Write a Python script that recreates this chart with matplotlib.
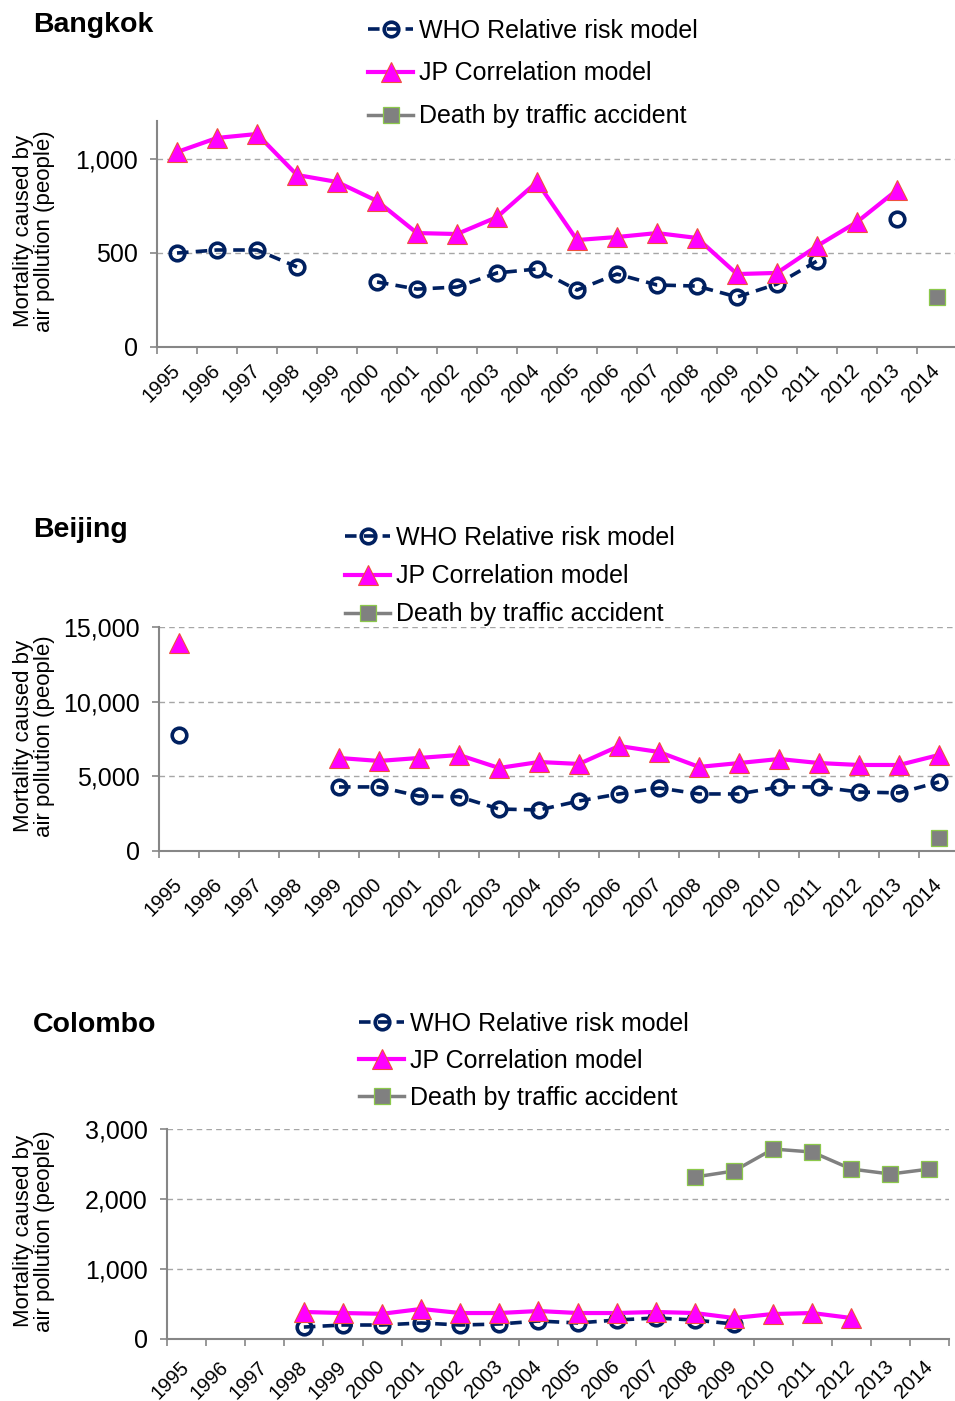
import numpy as np
import matplotlib
matplotlib.use("Agg")
import matplotlib.pyplot as plt
from matplotlib.ticker import FuncFormatter

plt.rcParams['font.family'] = ['Liberation Sans', 'DejaVu Sans']

nan = np.nan
years = [str(y) for y in range(1995, 2015)]
series_names = ["WHO Relative risk model", "JP Correlation model", "Death by traffic accident"]

### Bangkok
bkk_who = [500, 516, 516, 426, nan, 346, 308, 319, 394, 415, 303, 388, 330, 324, 266, 335, 457, nan, 681, nan]
bkk_jp = [1037, 1112, 1133, 915, 878, 777, 606, 601, 691, 878, 569, 585, 606, 580, 388, 394, 537, 665, 835, nan]
bkk_traffic = [nan] * 19 + [266]

### Beijing
bj_who = [7770, nan, nan, nan, 4290, 4290, 3680, 3640, 2810, 2750, 3350, 3820, 4220, 3820, 3820, 4290, 4290, 3950, 3890, 4620]
bj_jp = [13930, nan, nan, nan, 6230, 6030, 6230, 6430, 5560, 5960, 5830, 7030, 6630, 5630, 5890, 6160, 5890, 5760, 5760, 6430]
bj_traffic = [nan] * 19 + [870]

### Colombo
cmb_who = [nan, nan, nan, 171, 200, 200, 229, 200, 214, 257, 229, 271, 300, 271, 214, nan, nan, nan, nan, nan]
cmb_jp = [nan, nan, nan, 386, 371, 360, 429, 371, 371, 400, 371, 371, 386, 371, 300, 357, 371, 300, nan, nan]
cmb_traffic = [nan] * 13 + [2314, 2400, 2714, 2671, 2428, 2357, 2428]

W, H = 955, 1401
fig = plt.figure(figsize=(W / 100, H / 100), dpi=100)

panels = [
    # title, data, ylim, yticks, axes box (px: left, top, right, bottom), title y, legend (x, top, spacing), xlabel pad
    ("Bangkok", (bkk_who, bkk_jp, bkk_traffic), 1200, [0, 500, 1000], (157, 121.4, 957, 347), 25, (368, 18.5, 0.76), 15),
    ("Beijing", (bj_who, bj_jp, bj_traffic), 15000, [0, 5000, 10000, 15000], (159, 627, 959, 851), 530, (345, 526, 0.57), 22),
    ("Colombo", (cmb_who, cmb_jp, cmb_traffic), 3000, [0, 1000, 2000, 3000], (167, 1129, 949, 1339), 1025, (359, 1012, 0.51), 18),
]

x = np.arange(len(years)) + 0.5
gray = '#868686'

for title, (who, jp, traffic), ymax, yt, (l, t, r, b), ty, (lx, ltop, lsp), xpad in panels:
    ax = fig.add_axes([l / W, 1 - b / H, (r - l) / W, (b - t) / H])
    ax.plot(x, who, color='#002060', lw=2.6, ls=(0, (3.2, 2.0)), marker='o', ms=10.5,
            mfc='none', mec='#002060', mew=2.6, label=series_names[0])
    ax.plot(x, jp, color='#FF00FF', lw=3, marker='^', ms=14, mfc='#FF00FF',
            mec='#F0503C', mew=0.8, label=series_names[1])
    ax.plot(x, traffic, color='#808080', lw=2.5, marker='s', ms=11.5, mfc='#808080',
            mec='#8CC84B', mew=0.9, label=series_names[2])

    ax.set_xlim(0, len(years))
    ax.set_ylim(0, ymax)
    ax.set_yticks(yt)
    ax.yaxis.set_major_formatter(FuncFormatter(lambda v, p: f"{int(v):,}"))
    ax.yaxis.grid(True, color='#A6A6A6', lw=1, ls=(0, (4, 3)))
    ax.set_axisbelow(True)

    ax.set_xticks(np.arange(len(years) + 1))
    ax.set_xticklabels([])
    ax.set_xticks(x, minor=True)
    ax.set_xticklabels(years, minor=True, rotation=45, ha='right', va='center',
                       rotation_mode='anchor', fontsize=14.5)
    ax.tick_params(axis='x', which='minor', length=0, pad=xpad)
    ax.tick_params(axis='x', which='major', length=5, color=gray, width=1.2)
    ax.tick_params(axis='y', length=5, color=gray, width=1.2, pad=9, labelsize=18)

    for s in ['top', 'right']:
        ax.spines[s].set_visible(False)
    for s in ['left', 'bottom']:
        ax.spines[s].set_color(gray)
        ax.spines[s].set_linewidth(1.5)

    fig.text(33 / W, 1 - ty / H, title, fontsize=20.5, fontweight='bold', ha='left', va='center')
    fig.text(34 / W, 1 - ((t + b) / 2 - 3) / H, "Mortality caused by\nair pollution (people)",
             rotation=90, ha='center', va='center', fontsize=16, multialignment='center',
             linespacing=1.05)

    ax.legend(loc='upper left', bbox_to_anchor=(lx / W, 1 - ltop / H), bbox_transform=fig.transFigure,
              frameon=False, fontsize=18, handlelength=1.8, handletextpad=0.25,
              labelspacing=lsp, borderpad=0, borderaxespad=0)

fig.savefig("out.png", dpi=100)
